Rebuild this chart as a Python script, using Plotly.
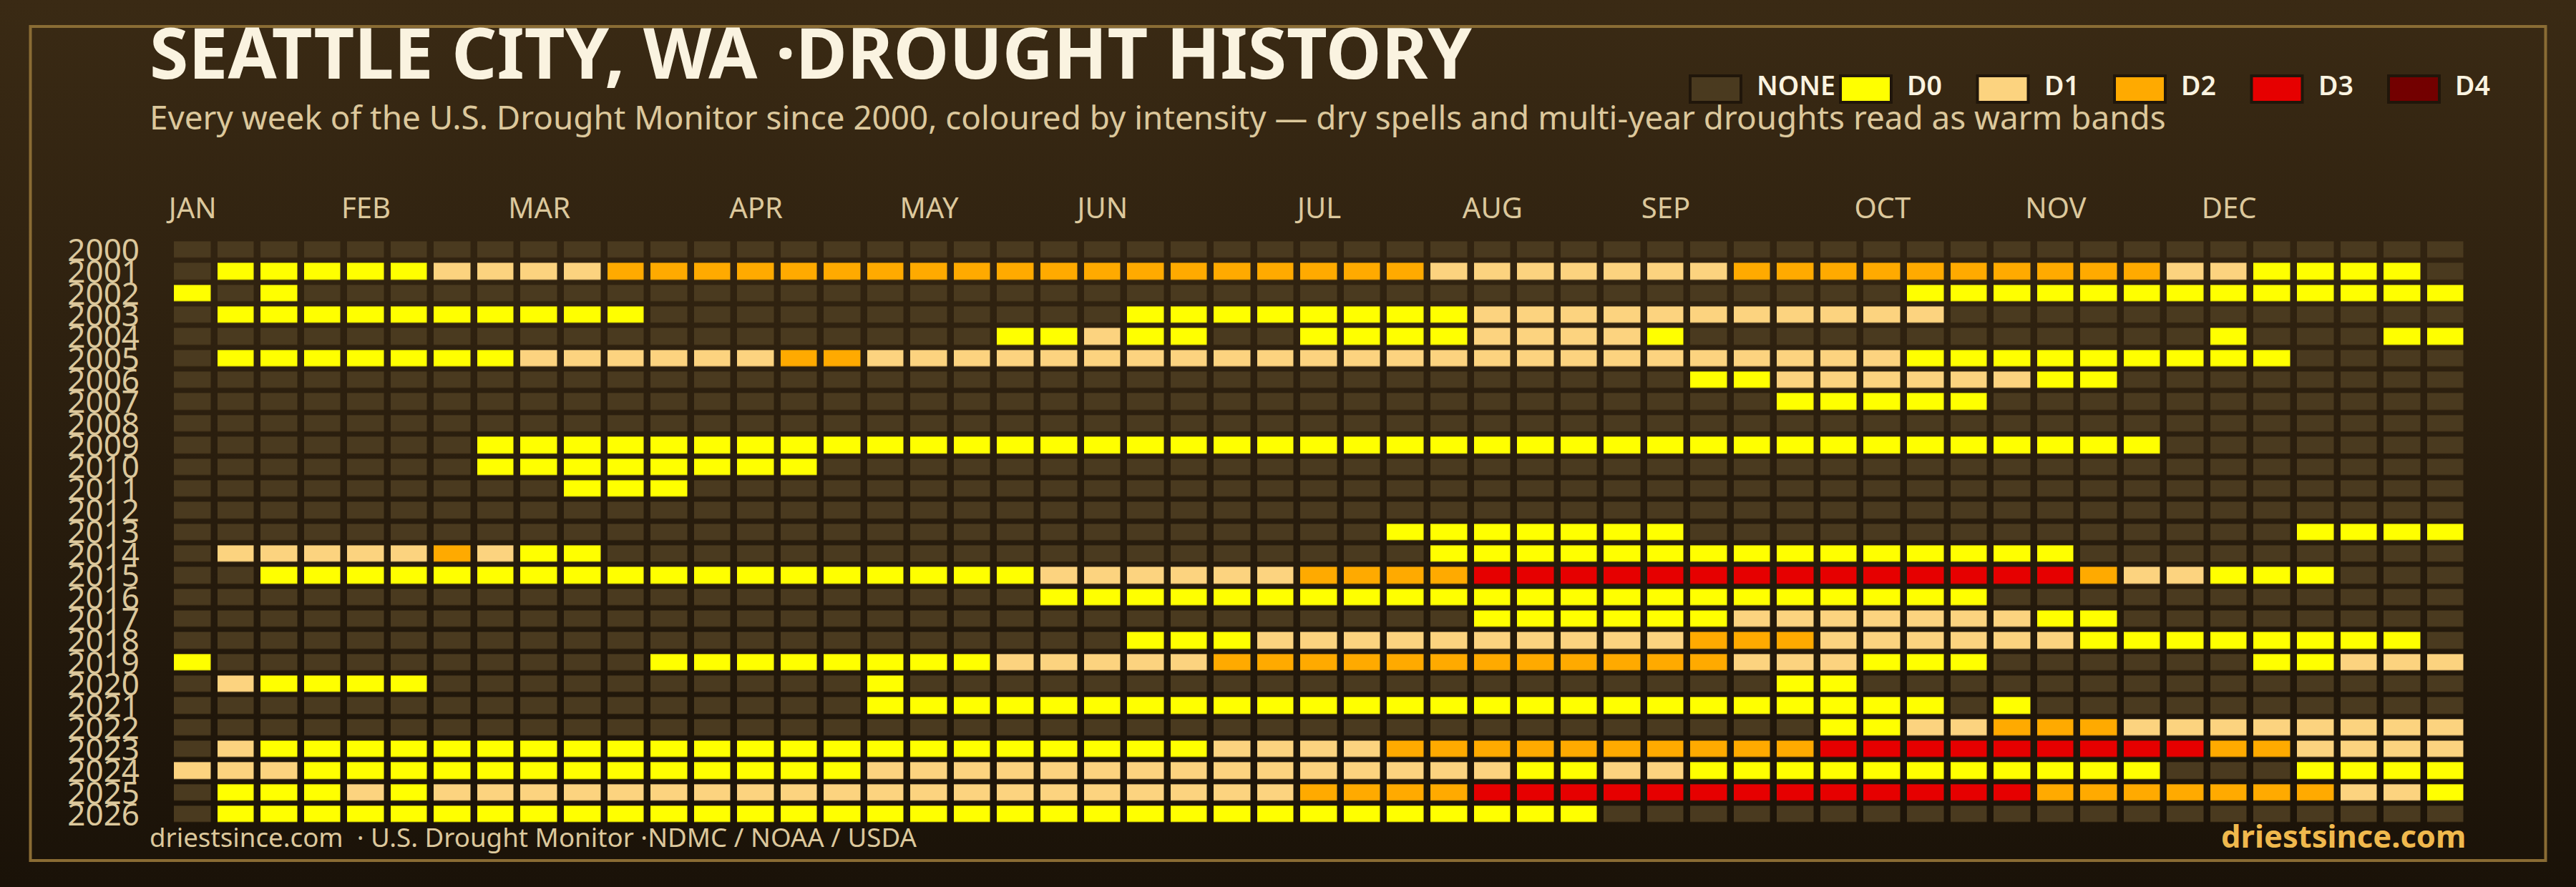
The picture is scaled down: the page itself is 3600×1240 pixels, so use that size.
import plotly.graph_objects as go

W, H = 3600, 1240
FONT = "Noto Sans"

years = list(range(2000, 2027))
months = ["JAN","FEB","MAR","APR","MAY","JUN","JUL","AUG","SEP","OCT","NOV","DEC"]
month_weeks = [0,4,8,13,17,21,26,30,34,39,43,47]
levels = ["NONE","D0","D1","D2","D3","D4"]
level_colors = ["#4a3a1f","#ffff00","#fcd37f","#ffaa00","#e60000","#730000"]

# one digit per week: 0 none, 1 D0, 2 D1, 3 D2, 4 D3, 5 D4
w2000 = "0"*53
w2001 = "0"+"11111"+"2222"+"3"*19+"2"*7+"3"*10+"22"+"1111"+"0"
w2002 = "101"+"0"*37+"1"*13
w2003 = "0"+"1"*10+"0"*11+"1"*8+"2"*11+"0"*12
w2004 = "0"*19+"11"+"2"+"11"+"00"+"1111"+"2222"+"1"+"0"*12+"1"+"000"+"11"
w2005 = "0"+"1"*7+"2"*6+"33"+"2"*24+"1"*9+"0000"
w2006 = "0"*35+"11"+"2"*6+"11"+"0"*8
w2007 = "0"*37+"1"*5+"0"*11
w2008 = "0"*53
w2009 = "0"*7+"1"*39+"0"*7
w2010 = "0"*7+"1"*8+"0"*38
w2011 = "0"*9+"111"+"0"*41
w2012 = "0"*53
w2013 = "0"*28+"1"*7+"0"*14+"1"*4
w2014 = "0"+"22222"+"3"+"2"+"11"+"0"*19+"1"*15+"0"*9
w2015 = "00"+"1"*18+"2"*6+"3333"+"4"*14+"3"+"22"+"111"+"000"
w2016 = "0"*20+"1"*22+"0"*11
w2017 = "0"*30+"1"*6+"2"*7+"11"+"0"*8
w2018 = "0"*22+"111"+"2"*10+"333"+"2"*6+"1"*8+"0"
w2019 = "1"+"0"*10+"1"*8+"2"*5+"3"*12+"222"+"111"+"0"*6+"11"+"222"
w2020 = "0"+"2"+"1111"+"0"*10+"1"+"0"*20+"11"+"0"*14
w2021 = "0"*16+"1"*25+"0"+"1"+"0"*10
w2022 = "0"*38+"11"+"22"+"333"+"2"*8
w2023 = "0"+"2"+"1"*22+"2222"+"3"*10+"4"*9+"33"+"2222"
w2024 = "222"+"1"*13+"2"*15+"11"+"22"+"1"*11+"000"+"1111"
w2025 = "0"+"111"+"2"+"1"+"2"*20+"3333"+"4"*13+"3"*7+"22"+"1"
w2026 = "0"+"1"*32+"0"*20

week_rows = [w2000,w2001,w2002,w2003,w2004,w2005,w2006,w2007,w2008,w2009,w2010,w2011,w2012,
             w2013,w2014,w2015,w2016,w2017,w2018,w2019,w2020,w2021,w2022,w2023,w2024,w2025,w2026]
assert all(len(r) == 53 for r in week_rows)
z = [[int(c) for c in r] for r in week_rows]

CREAM, SAND, GOLD, FRAME = "#faf3e0", "#dcc89c", "#f0b94d", "#8a6c34"

def px(x): return x / W
def py(y): return 1 - y / H

colorscale = []
for i, c in enumerate(level_colors):
    colorscale += [[i / 6, c], [(i + 1) / 6, c]]

fig = go.Figure()
# page background gradient
fig.add_trace(go.Scatter(x=[0,1,1,0,0], y=[0,0,1,1,0], mode="lines", line=dict(width=0),
                         fill="toself", hoverinfo="skip", showlegend=False,
                         fillgradient=dict(type="vertical",
                                           colorscale=[[0,"#1a1208"],[1,"#3a2a14"]])))
fig.add_trace(go.Heatmap(z=z, x=list(range(53)), y=years, xaxis="x2", yaxis="y2",
                         zmin=-0.5, zmax=5.5, colorscale=colorscale, showscale=False,
                         xgap=9.5, ygap=7.3, hoverinfo="skip"))

shapes = [dict(type="rect", xref="paper", yref="paper", layer="above",
               x0=px(42.5), x1=px(3557.5), y0=py(37), y1=py(1203),
               line=dict(color=FRAME, width=4), fillcolor="rgba(0,0,0,0)")]
annotations = []

def text(s, x, y, size, color, anchor="left", weight=400, family=FONT):
    annotations.append(dict(text=s, x=px(x), y=py(y), xref="paper", yref="paper", showarrow=False,
                            xanchor=anchor, yanchor="middle", align=anchor, borderpad=0,
                            font=dict(family=family, size=size, color=color, weight=weight)))

text("SEATTLE CITY, WA ·DROUGHT HISTORY", 208, 72, 98.5, CREAM, weight=700)
text("Every week of the U.S. Drought Monitor since 2000, coloured by intensity — dry spells and multi-year droughts read as warm bands",
     208, 163, 45.8, SAND)
text("driestsince.com  · U.S. Drought Monitor ·NDMC / NOAA / USDA", 208, 1170, 36.7, SAND)
text("driestsince.com", 3447, 1168, 43.5, GOLD, anchor="right", weight=700)

legend_left = [2360, 2570, 2761.5, 2953, 3144.5, 3336]
for name, color, x in zip(levels, level_colors, legend_left):
    shapes.append(dict(type="rect", xref="paper", yref="paper", layer="above",
                       x0=px(x + 2), x1=px(x + 73), y0=py(106), y1=py(143),
                       fillcolor=color, line=dict(color="#20160a", width=4)))
    text(name, x + 94, 119, 37.5, CREAM, weight=600)

fig.update_layout(
    width=W, height=H, margin=dict(l=0, r=0, t=0, b=0, pad=0, autoexpand=False),
    paper_bgcolor="#2a1e0e", plot_bgcolor="rgba(0,0,0,0)", showlegend=False,
    shapes=shapes, annotations=annotations,
    xaxis=dict(domain=[0,1], range=[0,1], visible=False, fixedrange=True, automargin=False),
    yaxis=dict(domain=[0,1], range=[0,1], visible=False, fixedrange=True, automargin=False),
    xaxis2=dict(domain=[px(239), px(3448.2)], range=[-0.5,52.5], anchor="y2", side="top",
                tickmode="array", tickvals=month_weeks, ticktext=months, showgrid=False,
                zeroline=False, showline=False, ticks="", ticklabelstandoff=20, automargin=False,
                tickfont=dict(family=FONT, size=40, color=SAND), fixedrange=True),
    yaxis2=dict(domain=[py(1153.8), py(334.35)], range=[2026.5,1999.5], anchor="x2",
                tickmode="array", tickvals=years, ticktext=[str(y) for y in years], showgrid=False,
                zeroline=False, showline=False, ticks="", ticklabelstandoff=43, automargin=False,
                tickfont=dict(family=FONT, size=44, color=SAND), fixedrange=True),
)

fig.write_html("out.html", config={"displayModeBar": False},
               post_script="document.body.style.margin='0';document.body.style.overflow='hidden';")
